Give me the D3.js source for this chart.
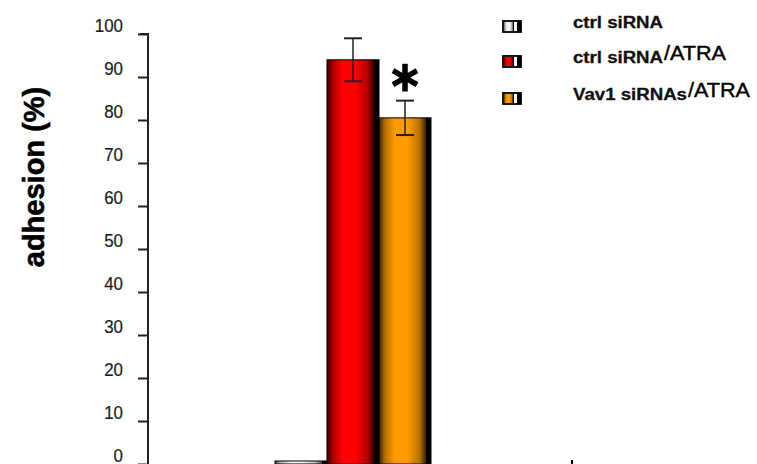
<!DOCTYPE html>
<html>
<head>
<meta charset="utf-8">
<script src="https://cdn.jsdelivr.net/npm/d3@7"></script>
<style>
  html, body { margin: 0; padding: 0; background: #fff; }
  svg { display: block; }
  text { font-family: "Liberation Sans", Arial, sans-serif; }
</style>
</head>
<body>
<svg id="chart" width="757" height="464"></svg>
<script>
// Adhesion (%) per condition, mean and error (±)
const categories = ["ctrl siRNA", "ctrl siRNA/ATRA", "Vav1 siRNAs/ATRA"];
const means = [0.7, 94, 80.5];
const errors = [0, 5, 4];
const significant = [false, false, true];
const yTicks = [0, 10, 20, 30, 40, 50, 60, 70, 80, 90, 100];
const legendMain = ["ctrl siRNA", "ctrl siRNA", "Vav1 siRNAs"];
const legendSuffix = ["", "/ATRA", "/ATRA"];

// shading for each bar: dark edge, bright, dark
const shades = [
  { dark: "#5a5a5a", mid: "#b8b8b8", light: "#f4f4f4" },
  { dark: "#3a0000", mid: "#b00000", light: "#ff0000" },
  { dark: "#3a2400", mid: "#b87200", light: "#ff9a00" }
];

const svg = d3.select("#chart");
const defs = svg.append("defs");

shades.forEach((s, i) => {
  const g = defs.append("linearGradient")
    .attr("id", "grad" + i)
    .attr("x1", "0%").attr("x2", "100%").attr("y1", "0%").attr("y2", "0%");
  [[0, s.dark], [0.12, s.mid], [0.3, s.light], [0.55, s.light],
   [0.78, s.mid], [0.9, s.dark], [0.9, "#000"], [1, "#000"]]
    .forEach(([o, c]) => g.append("stop").attr("offset", o).attr("stop-color", c));
});

const y = d3.scaleLinear().domain([0, 100]).range([464, 34]);
const x = d3.scaleBand().domain(categories).range([275, 431]).padding(0);

// y axis
const yAxis = d3.axisLeft(y).tickValues(yTicks).tickSize(10).tickPadding(15);
const axisG = svg.append("g").attr("transform", "translate(148,0)").call(yAxis);
axisG.select(".domain").attr("stroke", "#222").attr("stroke-width", 2)
  .attr("d", `M-8,${y(100)}H0V${y(0) + 2}`);
axisG.selectAll(".tick line").attr("stroke", "#222").attr("stroke-width", 2);
axisG.selectAll(".tick text")
  .attr("fill", "#1a1a1a")
  .attr("stroke", "#1a1a1a")
  .attr("stroke-width", 0.2)
  .style("font-size", "18.5px")
  .style("font-family", "'Liberation Sans', Arial, sans-serif")
  .attr("textLength", d => String(d).length * 9.4)
  .attr("lengthAdjust", "spacingAndGlyphs")
  .attr("dy", "-3px");

// y axis title
svg.append("text")
  .attr("transform", `translate(44,177) rotate(-90)`)
  .attr("text-anchor", "middle")
  .attr("stroke", "#000")
  .attr("stroke-width", 0.6)
  .style("font-size", "29px")
  .style("font-weight", "bold")
  .text("adhesion (%)");

// bars
svg.selectAll("rect.bar")
  .data(categories)
  .join("rect")
  .attr("class", "bar")
  .attr("x", d => x(d))
  .attr("width", x.bandwidth())
  .attr("y", (d, i) => y(means[i]))
  .attr("height", (d, i) => y(0) - y(means[i]))
  .attr("fill", (d, i) => `url(#grad${i})`)
  .attr("stroke", "#000")
  .attr("stroke-width", 1);

// error bars
const errG = svg.append("g");
categories.forEach((c, i) => {
  if (!errors[i]) return;
  const cx = x(c) + x.bandwidth() / 2;
  const top = y(means[i] + errors[i]);
  const bot = y(means[i] - errors[i]);
  errG.append("line").attr("x1", cx).attr("x2", cx).attr("y1", top).attr("y2", bot)
    .attr("stroke", "#222").attr("stroke-width", 1.5);
  errG.append("line").attr("x1", cx - 9).attr("x2", cx + 9).attr("y1", top).attr("y2", top)
    .attr("stroke", "#222").attr("stroke-width", 2);
  errG.append("line").attr("x1", cx - 9).attr("x2", cx + 9).attr("y1", bot).attr("y2", bot)
    .attr("stroke", "#222").attr("stroke-width", 2);
});

// significance marker
categories.forEach((c, i) => {
  if (!significant[i]) return;
  const cx = x(c) + x.bandwidth() / 2;
  svg.append("path")
    .attr("d", d3.symbol().type(d3.symbolAsterisk).size(540)())
    .attr("transform", `translate(${cx},${y(means[i] + errors[i]) - 23})`)
    .attr("fill", "none")
    .attr("stroke", "#000")
    .attr("stroke-width", 5.5);
});

// small tick at the bottom right
svg.append("line").attr("x1", 572).attr("x2", 572).attr("y1", 460).attr("y2", 464)
  .attr("stroke", "#000").attr("stroke-width", 2);

// legend
const legY = [28, 63, 100];
const mainWidth = [90, 90, 114];
const leg = svg.append("g");
categories.forEach((c, i) => {
  const gy = legY[i];
  const sg = leg.append("g").attr("transform", `translate(503,${gy - 7})`);
  sg.append("rect").attr("x", 0).attr("y", 0).attr("width", 18).attr("height", 11)
    .attr("fill", "#fff").attr("stroke", "#000").attr("stroke-width", 1.8);
  sg.append("rect").attr("x", 1).attr("y", 1).attr("width", 10).attr("height", 9)
    .attr("fill", `url(#grad${i})`);
  sg.append("rect").attr("x", 14).attr("y", 0).attr("width", 4).attr("height", 11)
    .attr("fill", "#000");
  leg.append("text").attr("x", 573).attr("y", gy)
    .attr("textLength", mainWidth[i]).attr("lengthAdjust", "spacingAndGlyphs")
    .style("font-size", "16px").style("font-weight", "bold")
    .attr("fill", "#111").attr("stroke", "#111").attr("stroke-width", 0.3)
    .text(legendMain[i]);
  if (legendSuffix[i]) {
    leg.append("text").attr("x", 573 + mainWidth[i] + 1).attr("y", gy - 3)
      .attr("textLength", 62).attr("lengthAdjust", "spacingAndGlyphs")
      .style("font-size", "20px")
      .attr("fill", "#000").attr("stroke", "#000").attr("stroke-width", 0.4)
      .text(legendSuffix[i]);
  }
});
</script>
</body>
</html>
